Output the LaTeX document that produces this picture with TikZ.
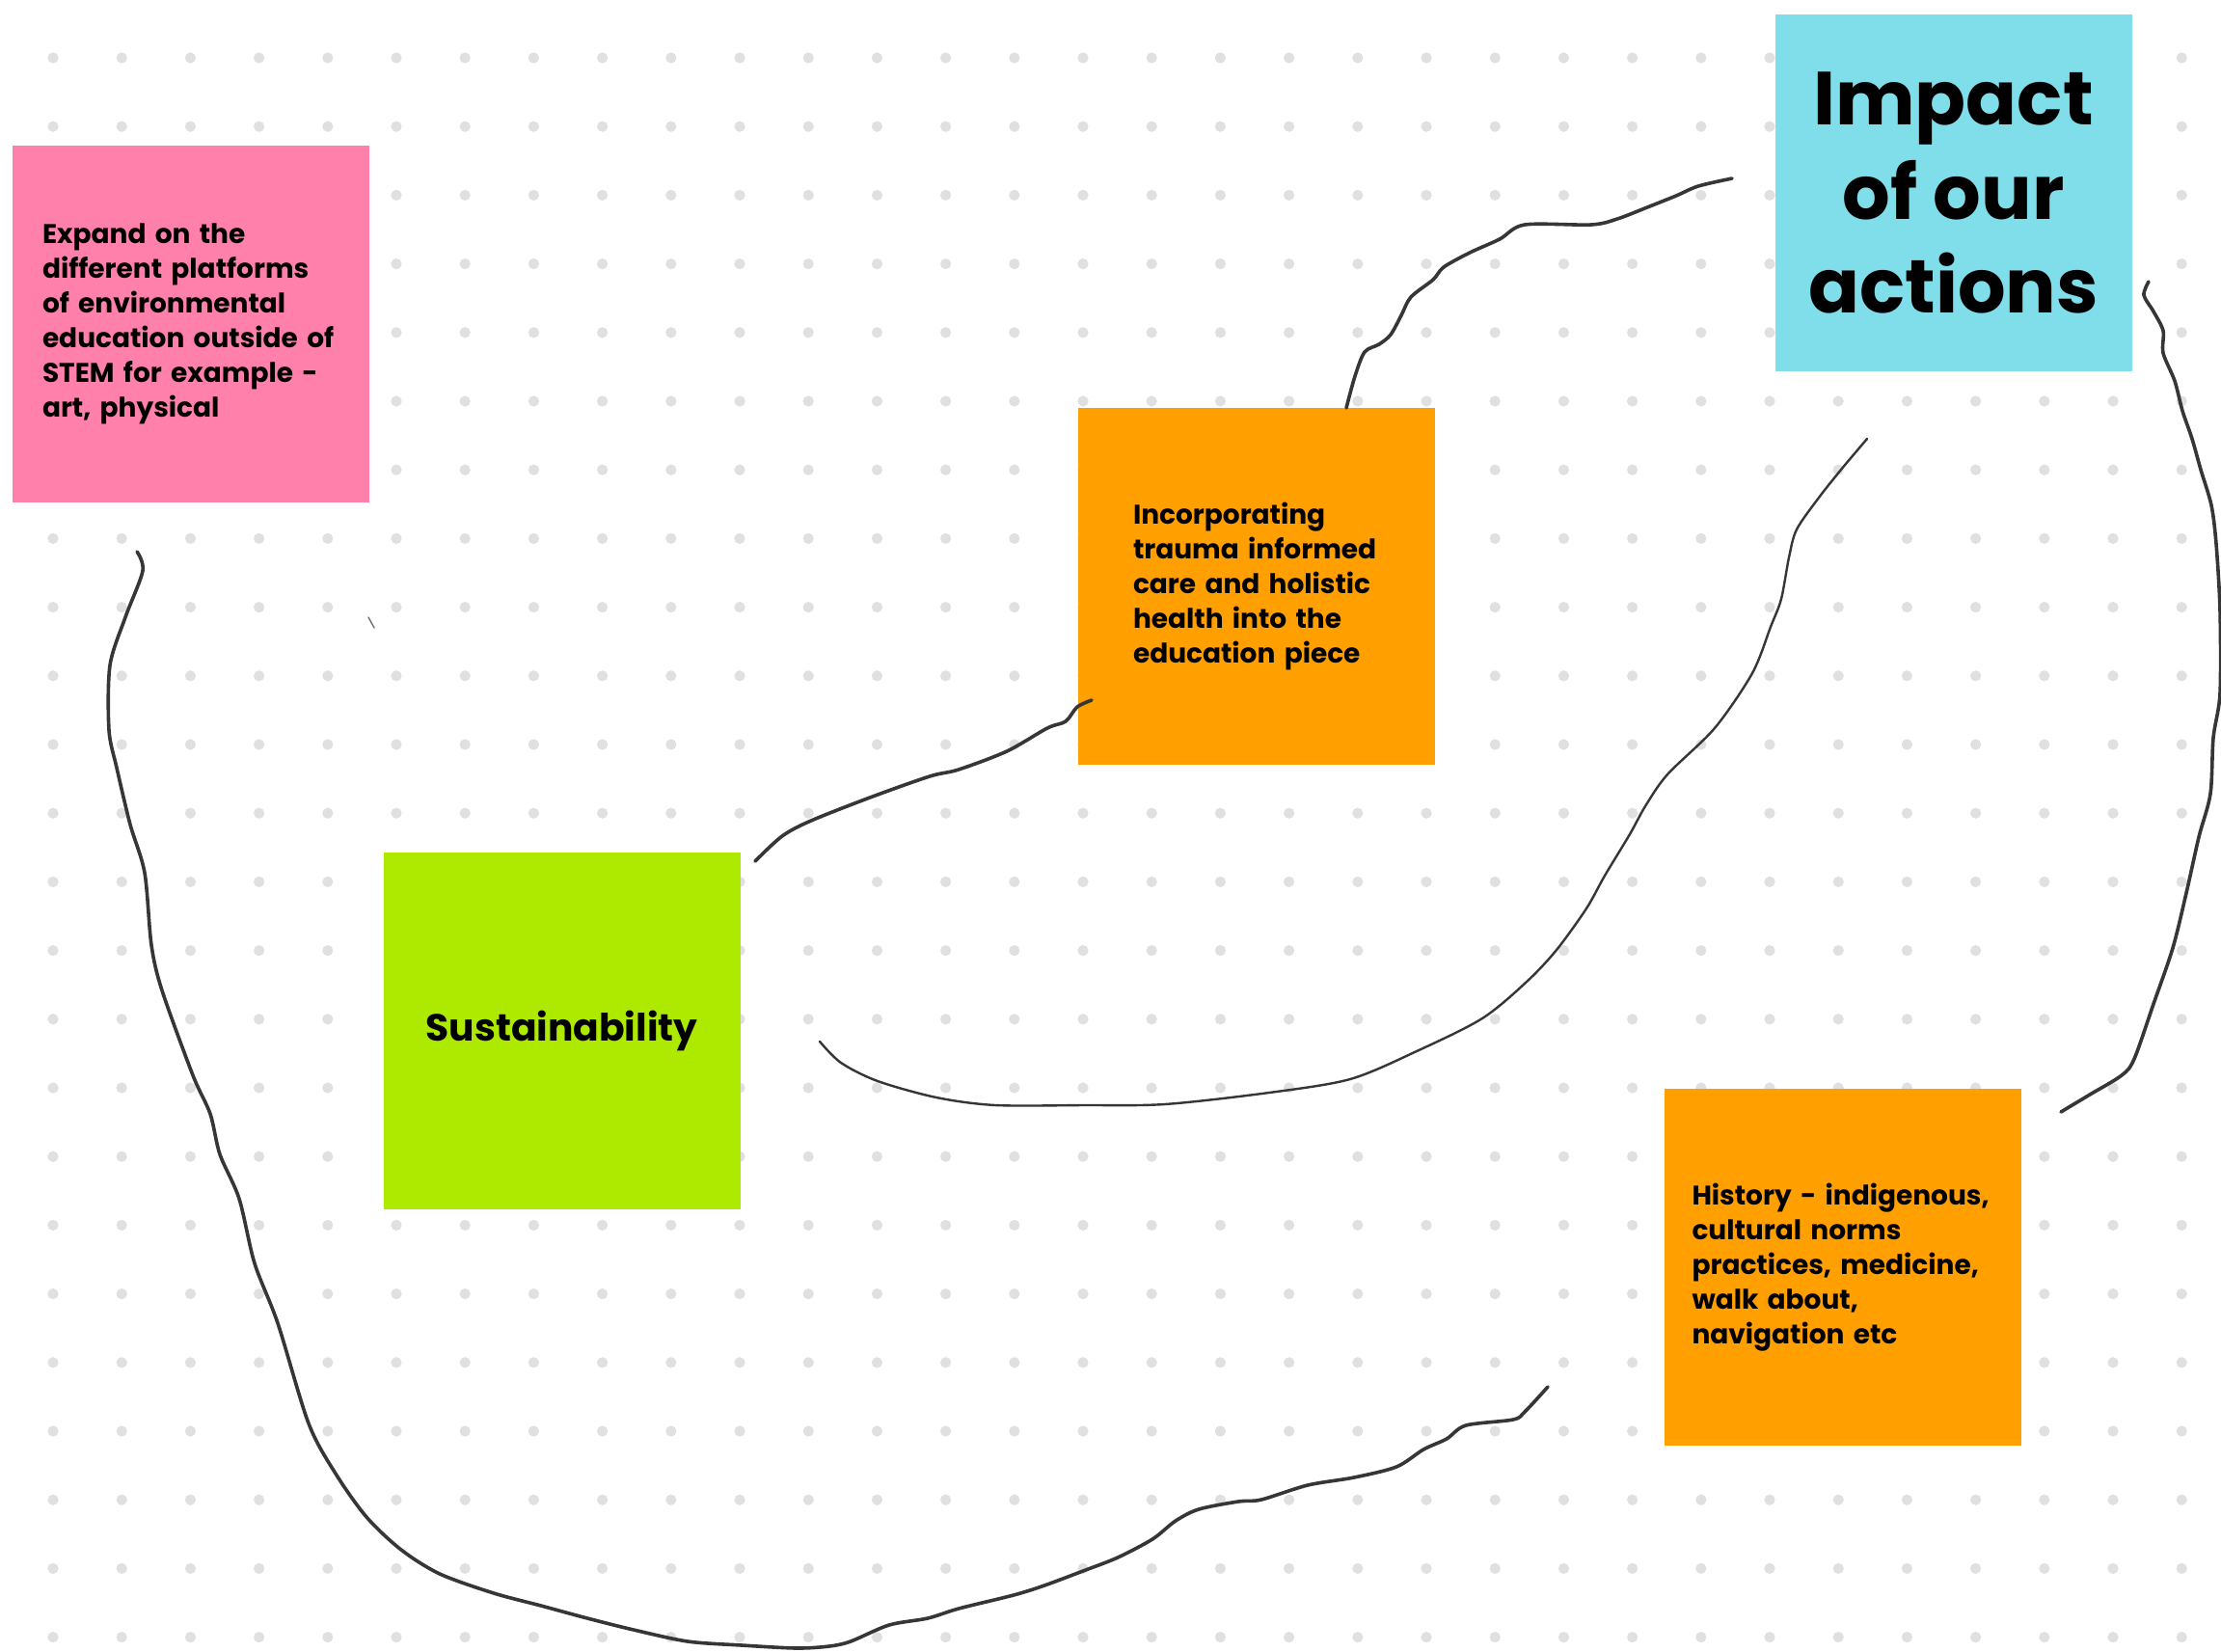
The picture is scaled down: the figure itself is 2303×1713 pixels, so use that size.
\documentclass[tikz,border=0pt]{standalone}
\usepackage{fontspec}
\setmainfont{Poppins}
\definecolor{pinkc}{HTML}{FF80AB}
\definecolor{cyanc}{HTML}{80DEEA}
\definecolor{orangec}{HTML}{FF9F00}
\definecolor{limec}{HTML}{AEEA00}
\definecolor{dotc}{HTML}{E0E0E0}
\definecolor{inkc}{HTML}{363636}
\tikzset{
  note/.style={rectangle, minimum width=92.5pt, minimum height=92.5pt, inner sep=0pt, font=\bfseries\fontsize{7pt}{9pt}\selectfont, align=left},
  ink/.style={draw=inkc, line width=0.9pt, line cap=round, line join=round},
  thinink/.style={draw=inkc, line width=0.6pt, line cap=round, line join=round},
}
\begin{document}
\begin{tikzpicture}[x=0.25pt, y=-0.25pt]
\useasboundingbox (0,0) rectangle (2303,1713);
\fill[white] (0,0) rectangle (2303,1713);
% dot grid
\foreach \i in {0,...,31}{
  \foreach \j in {0,...,23}{
    \fill[dotc] (55+71.2*\i, 60+71.2*\j) circle (1.4pt);
  }
}
% notes
\node[note, fill=pinkc, text width=77pt] (pink) at (198,335.5) {Expand on the\\different platforms\\of environmental\\education outside of\\STEM for example -\\art, physical};
\node[note, fill=cyanc, align=center, font=\bfseries\fontsize{19.5pt}{24.3pt}\selectfont] (impact) at (2025.5,200) {Impact\\of our\\actions};
\node[note, fill=orangec, text width=64pt] (trauma) at (1303,608) {Incorporating\\trauma informed\\care and holistic\\health into the\\education piece};
\node[note, fill=limec, align=center, font=\bfseries\fontsize{9.8pt}{12pt}\selectfont] (sust) at (582.5,1068.5) {Sustainability};
\node[note, fill=orangec, text width=78pt] (history) at (1910.5,1314) {History - indigenous,\\cultural norms\\practices, medicine,\\walk about,\\navigation etc};
% connector end points
\coordinate (aS) at (142,572);
\coordinate (aE) at (1605,1438);
\coordinate (bS) at (783,893);
\coordinate (bE) at (1132,726);
\coordinate (cS) at (1396,423);
\coordinate (cE) at (1796,185);
\coordinate (dS) at (1936,455);
\coordinate (dE) at (850,1080);
\coordinate (eS) at (2228,292);
\coordinate (eE) at (2137,1153);
\coordinate (tS) at (382,640);
\coordinate (tE) at (388,651);
% hand drawn connectors
\draw[ink] plot[smooth, tension=0.5] coordinates {(aS) (148,592) (130,640) (114,690) (113,757) (121,796) (135,855) (150,905) (157,980) (168,1027) (200,1115) (218,1155) (228,1197) (248,1243) (264,1310) (288,1372) (320,1476) (348,1528) (380,1573) (416,1607) (456,1632) (512,1652) (561,1665) (609,1678) (657,1690) (713,1702) (769,1706) (826,1709) (860,1707) (882,1702) (922,1685) (962,1678) (994,1668) (1051,1654) (1083,1644) (1123,1629) (1159,1615) (1195,1596) (1219,1577) (1243,1565) (1284,1557) (1308,1555) (1356,1540) (1404,1532) (1448,1521) (1476,1503) (1500,1492) (1520,1478) (1569,1472) (1581,1464) (aE)};
\draw[ink] plot[smooth, tension=0.5] coordinates {(bS) (811,867) (841,851) (902,827) (964,805) (994,798) (1044,779) (1086,755) (1105,748) (1117,733) (bE)};
\draw[ink] plot[smooth, tension=0.5] coordinates {(cS) (1405,390) (1415,365) (1430,357) (1442,347) (1453,327) (1463,308) (1486,290) (1497,277) (1524,262) (1555,248) (1581,233) (1650,233) (1677,227) (1708,215) (1738,203) (1761,193) (cE)};
\draw[thinink] plot[smooth, tension=0.5] coordinates {(dS) (1909,487) (1886,516) (1863,549) (1855,578) (1847,621) (1836,650) (1817,698) (1778,755) (1729,803) (1706,836) (1690,865) (1664,908) (1645,942) (1614,985) (1583,1018) (1537,1056) (1469,1090) (1400,1119) (1316,1133) (1208,1145) (1124,1146) (1032,1146) (971,1138) (910,1121) (872,1102) (dE)};
\draw[ink] plot[smooth, tension=0.5] coordinates {(eS) (2223,306) (2233,323) (2243,343) (2243,366) (2255,395) (2263,426) (2273,455) (2282,487) (2293,524) (2298,564) (2302,633) (2302,719) (2295,765) (2292,823) (2280,868) (2267,926) (2253,983) (2233,1041) (2213,1098) (2200,1115) (2167,1135) (eE)};
\draw[draw=inkc!70, line width=0.35pt, line cap=round] (tS) -- (tE);
\end{tikzpicture}
\end{document}
